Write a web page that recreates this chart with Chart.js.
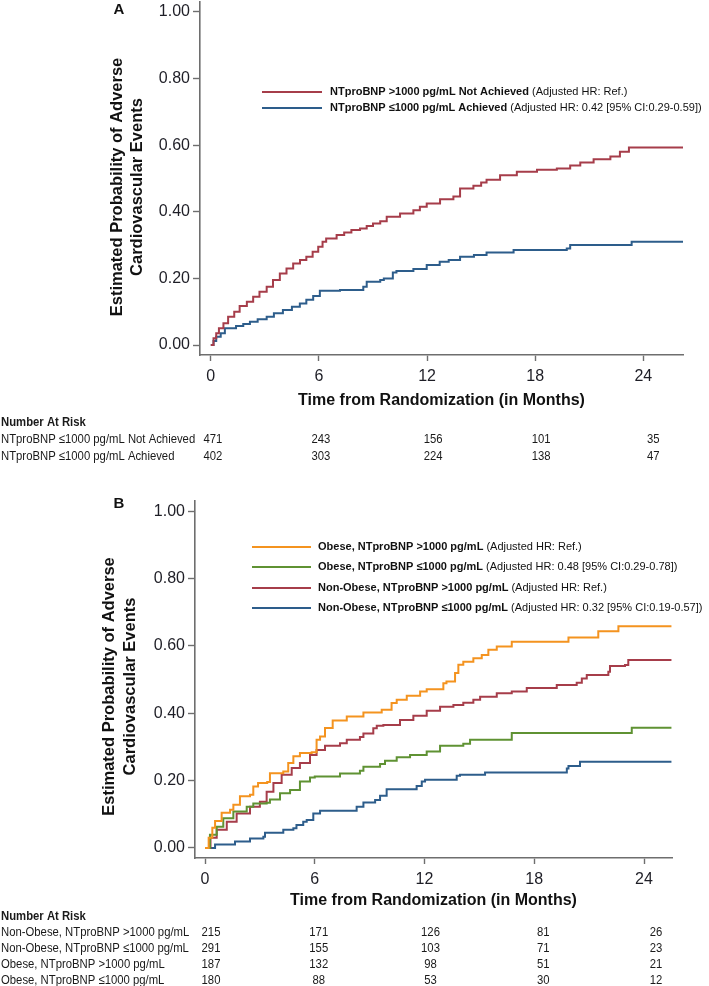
<!DOCTYPE html>
<html>
<head>
<meta charset="utf-8">
<script src="https://cdn.jsdelivr.net/npm/chart.js@4.4.0/dist/chart.umd.min.js"></script>
<style>
  html, body { margin: 0; padding: 0; background: #fff; }
  .panel { position: absolute; left: 0; width: 709px; }
  #boxA { top: 0; height: 470px; }
  #boxB { top: 470px; height: 516px; }
</style>
</head>
<body>
<div class="panel" id="boxA"><canvas id="chartA" width="709" height="470"></canvas></div>
<div class="panel" id="boxB"><canvas id="chartB" width="709" height="516"></canvas></div>
<script>
// ---------- shared axes ----------
const xTicks = [0, 6, 12, 18, 24];
const yTicks = [0, 0.2, 0.4, 0.6, 0.8, 1.0];
const yTitle = ['Estimated Probability of Adverse', 'Cardiovascular Events'];
const xTitle = 'Time from Randomization (in Months)';

// ---------- panel A: cumulative event curves ----------
const timeA_notAchieved = [0, 0.15, 0.3, 0.45, 0.7, 0.96, 1.3, 1.6, 2.0, 2.35, 2.7, 3.1, 3.45, 3.83, 4.2, 4.57, 4.95, 5.3, 5.65, 5.96, 6.2, 6.4, 6.98, 7.4, 7.8, 8.28, 8.65, 9.0, 9.4, 9.76, 10.5, 11.24, 11.6, 11.98, 12.72, 13.46, 13.83, 14.57, 15.0, 15.3, 16.05, 16.98, 18.1, 19.2, 19.94, 20.5, 21.24, 22.17, 22.7, 23.2, 26.2];
const probA_notAchieved = [0, 0.02, 0.035, 0.05, 0.065, 0.085, 0.1, 0.117, 0.13, 0.145, 0.16, 0.175, 0.195, 0.215, 0.23, 0.245, 0.255, 0.265, 0.28, 0.295, 0.31, 0.32, 0.33, 0.338, 0.345, 0.35, 0.357, 0.365, 0.372, 0.385, 0.395, 0.405, 0.415, 0.425, 0.438, 0.446, 0.47, 0.478, 0.488, 0.496, 0.51, 0.52, 0.526, 0.53, 0.539, 0.548, 0.558, 0.566, 0.58, 0.593, 0.593];

const timeA_achieved = [0, 0.15, 0.3, 0.55, 0.78, 1.4, 1.8, 2.17, 2.6, 3.1, 3.5, 4.0, 4.5, 4.94, 5.3, 5.68, 6.05, 7.17, 8.46, 8.65, 9.4, 9.6, 10.1, 10.3, 11.24, 11.98, 12.7, 13.2, 13.83, 14.6, 15.3, 16.8, 19.75, 19.94, 23.35, 26.2];
const probA_achieved = [0, 0.012, 0.025, 0.035, 0.05, 0.057, 0.063, 0.07, 0.077, 0.085, 0.095, 0.105, 0.115, 0.125, 0.136, 0.147, 0.163, 0.165, 0.175, 0.19, 0.195, 0.2, 0.218, 0.222, 0.228, 0.24, 0.25, 0.255, 0.265, 0.27, 0.278, 0.285, 0.29, 0.3, 0.31, 0.31];

const legendA_bold = ['NTproBNP >1000 pg/mL Not Achieved', 'NTproBNP \u22641000 pg/mL Achieved'];
const legendA_hr = ['(Adjusted HR: Ref.)', '(Adjusted HR: 0.42 [95% CI:0.29-0.59])'];

const riskA_labels = ['NTproBNP \u22641000 pg/mL Not Achieved', 'NTproBNP \u22641000 pg/mL Achieved'];
const riskA_notAchieved = [471, 243, 156, 101, 35];
const riskA_achieved = [402, 303, 224, 138, 47];

// ---------- panel B ----------
const timeB_obeseHigh = [0, 0.2, 0.4, 0.55, 0.91, 1.37, 1.55, 1.91, 2.46, 2.64, 2.9, 3.4, 3.55, 4.28, 4.55, 4.83, 5.19, 5.83, 6.1, 6.29, 6.56, 6.98, 7.75, 8.66, 9.66, 10.2, 10.48, 11.03, 11.76, 12.12, 13.03, 13.2, 13.67, 13.85, 14.12, 14.67, 15.13, 15.49, 15.95, 16.77, 19.87, 21.5, 22.6, 25.5];
const probB_obeseHigh = [0, 0.03, 0.06, 0.08, 0.104, 0.113, 0.128, 0.153, 0.158, 0.182, 0.193, 0.196, 0.222, 0.227, 0.252, 0.272, 0.282, 0.284, 0.321, 0.331, 0.356, 0.378, 0.39, 0.402, 0.41, 0.43, 0.44, 0.452, 0.464, 0.471, 0.489, 0.494, 0.519, 0.544, 0.553, 0.563, 0.573, 0.588, 0.598, 0.612, 0.625, 0.643, 0.658, 0.658];

const timeB_obeseLow = [0, 0.27, 0.64, 1.0, 1.55, 2.28, 2.64, 3.37, 3.55, 4.1, 4.65, 5.19, 5.74, 6.0, 7.38, 8.47, 8.66, 9.57, 9.84, 10.48, 11.21, 12.12, 12.85, 14.12, 14.49, 16.77, 23.33, 25.5];
const probB_obeseLow = [0, 0.039, 0.063, 0.088, 0.108, 0.122, 0.132, 0.134, 0.144, 0.162, 0.172, 0.197, 0.209, 0.212, 0.221, 0.229, 0.241, 0.249, 0.259, 0.269, 0.276, 0.286, 0.303, 0.309, 0.321, 0.341, 0.357, 0.357];

const timeB_nonObeseHigh = [0, 0.3, 0.64, 1.19, 1.73, 2.46, 3.0, 3.37, 3.74, 4.19, 4.74, 5.19, 5.74, 6.1, 6.56, 7.38, 7.75, 8.47, 8.66, 9.2, 9.39, 9.75, 10.66, 11.39, 12.12, 12.85, 13.58, 14.12, 14.67, 15.04, 15.95, 16.77, 17.59, 19.23, 20.32, 20.6, 20.87, 22.05, 22.14, 22.96, 23.14, 25.5];
const probB_nonObeseHigh = [0, 0.03, 0.054, 0.078, 0.102, 0.122, 0.137, 0.167, 0.193, 0.217, 0.237, 0.252, 0.276, 0.291, 0.303, 0.311, 0.321, 0.329, 0.34, 0.355, 0.363, 0.365, 0.38, 0.392, 0.407, 0.419, 0.424, 0.431, 0.44, 0.449, 0.459, 0.464, 0.475, 0.484, 0.49, 0.503, 0.513, 0.523, 0.54, 0.543, 0.558, 0.558];

const timeB_nonObeseLow = [0, 0.55, 1.64, 2.46, 3.19, 3.28, 4.28, 4.83, 5.0, 5.37, 5.56, 5.92, 6.29, 8.29, 8.66, 9.3, 9.57, 9.93, 11.57, 11.85, 12.03, 13.76, 13.94, 15.31, 19.78, 19.87, 20.5, 25.5];
const probB_nonObeseLow = [0, 0.01, 0.019, 0.028, 0.033, 0.045, 0.054, 0.058, 0.068, 0.078, 0.083, 0.102, 0.11, 0.122, 0.135, 0.142, 0.155, 0.174, 0.184, 0.197, 0.202, 0.214, 0.217, 0.224, 0.236, 0.243, 0.256, 0.256];

const legendB_bold = ['Obese, NTproBNP >1000 pg/mL', 'Obese, NTproBNP \u22641000 pg/mL', 'Non-Obese, NTproBNP >1000 pg/mL', 'Non-Obese, NTproBNP \u22641000 pg/mL'];
const legendB_hr = ['(Adjusted HR: Ref.)', '(Adjusted HR: 0.48 [95% CI:0.29-0.78])', '(Adjusted HR: Ref.)', '(Adjusted HR: 0.32 [95% CI:0.19-0.57])'];

const riskB_labels = ['Non-Obese, NTproBNP >1000 pg/mL', 'Non-Obese, NTproBNP \u22641000 pg/mL', 'Obese, NTproBNP >1000 pg/mL', 'Obese, NTproBNP \u22641000 pg/mL'];
const riskB_nonObeseHigh = [215, 171, 126, 81, 26];
const riskB_nonObeseLow = [291, 155, 103, 71, 23];
const riskB_obeseHigh = [187, 132, 98, 51, 21];
const riskB_obeseLow = [180, 88, 53, 30, 12];

// ---------- styling ----------
const RED = '#a63d4a';
const BLUE = '#2d5d8b';
const ORANGE = '#f4931f';
const GREEN = '#5f9233';
const AXIS = '#6e6e6e';
const FONT = "'Liberation Sans', Arial, sans-serif";

Chart.defaults.font.family = FONT;
Chart.defaults.color = '#1e1e26';

function pts(t, p) { return t.map((x, i) => ({ x: x, y: p[i] })); }

function curve(t, p, color) {
  return {
    data: pts(t, p), borderColor: color, borderWidth: 2,
    stepped: 'before', pointRadius: 0, fill: false, tension: 0
  };
}

function narrowText(ctx, str, x, y, align, sx) {
  ctx.save();
  ctx.translate(x, y);
  ctx.scale(sx, 1);
  ctx.textAlign = align;
  ctx.fillText(str, 0, 0);
  ctx.restore();
}

// titles, legend and risk table drawn on the canvas
function decor(L) {
  return {
    id: 'decor',
    afterDraw(chart) {
      const ctx = chart.ctx;
      const xs = chart.scales.x;
      ctx.save();
      ctx.fillStyle = '#111';
      ctx.textBaseline = 'middle';

      ctx.font = 'bold 15px ' + FONT;
      ctx.textAlign = 'center';
      ctx.fillText(L.letter, L.letterX, L.letterY);

      ctx.font = 'bold 16.5px ' + FONT;
      yTitle.forEach((line, i) => {
        ctx.save();
        ctx.translate(L.yTitleX[i], L.yTitleY);
        ctx.rotate(-Math.PI / 2);
        ctx.fillText(line, 0, 0);
        ctx.restore();
      });

      chart.data.datasets.forEach((ds, i) => {
        const y = L.legendY[i];
        ctx.strokeStyle = ds.borderColor;
        ctx.lineWidth = 2;
        ctx.beginPath();
        ctx.moveTo(L.legendLine[0], y);
        ctx.lineTo(L.legendLine[1], y);
        ctx.stroke();
        ctx.textAlign = 'left';
        ctx.font = 'bold ' + L.legendFont + 'px ' + FONT;
        ctx.fillText(L.legendBold[i], L.legendTextX, y);
        const w = ctx.measureText(L.legendBold[i] + ' ').width;
        ctx.font = L.legendFont + 'px ' + FONT;
        ctx.fillText(L.legendHr[i], L.legendTextX + w, y);
      });

      ctx.fillStyle = '#1a1a1a';
      ctx.font = 'bold 13px ' + FONT;
      narrowText(ctx, 'Number At Risk', 1, L.tableHeaderY, 'left', 0.87);
      ctx.font = '13px ' + FONT;
      L.riskLabels.forEach((lab, r) => {
        const y = L.tableHeaderY + L.tableRowGap * (r + 1);
        narrowText(ctx, lab, 1, y, 'left', 0.87);
        L.riskRows[r].forEach((n, j) => {
          const cx = xs.getPixelForValue(xTicks[j]) + L.colShift[j];
          narrowText(ctx, String(n), cx, y, 'center', 0.87);
        });
      });
      ctx.restore();
    }
  };
}

function makeChart(id, datasets, L) {
  return new Chart(document.getElementById(id), {
    type: 'line',
    data: { datasets: datasets },
    options: {
      responsive: false,
      animation: false,
      layout: { padding: L.padding },
      plugins: { legend: { display: false }, tooltip: { enabled: false } },
      scales: {
        x: {
          type: 'linear', min: L.xMin, max: L.xMax,
          afterBuildTicks: s => { s.ticks = xTicks.map(v => ({ value: v })); },
          afterFit: s => { s.height = L.xAxisHeight; s.paddingLeft = 0; s.paddingRight = 0; },
          border: { display: true, color: AXIS, width: 1.6 },
          grid: { drawOnChartArea: false, drawTicks: true, tickLength: 6, tickColor: AXIS, tickWidth: 1.4 },
          ticks: { padding: 6, font: { size: 16 }, color: '#1e1e26', maxRotation: 0 },
          title: { display: true, text: xTitle, font: { size: 16, weight: 'bold' }, color: '#111', padding: { top: 0, bottom: L.xTitlePad } }
        },
        y: {
          type: 'linear', min: -0.03, max: 1.03,
          afterBuildTicks: s => { s.ticks = yTicks.map(v => ({ value: v })); },
          afterFit: s => { s.width = L.yAxisWidth; s.paddingTop = 0; s.paddingBottom = 0; },
          border: { display: true, color: AXIS, width: 1.6 },
          grid: { drawOnChartArea: false, drawTicks: true, tickLength: 7, tickColor: AXIS, tickWidth: 1.4 },
          ticks: { padding: 3, font: { size: 16 }, color: '#1e1e26', callback: v => Number(v).toFixed(2) }
        }
      }
    },
    plugins: [decor(L)]
  });
}

makeChart('chartA', [
  curve(timeA_notAchieved, probA_notAchieved, RED),
  curve(timeA_achieved, probA_achieved, BLUE)
], {
  padding: { top: 2, right: 26, bottom: 55, left: 0 },
  xMin: -0.6, xMax: 26.2, xAxisHeight: 60, xTitlePad: 5, yAxisWidth: 200,
  letter: 'A', letterX: 119, letterY: 10,
  yTitleX: [117, 137], yTitleY: 187,
  legendY: [92, 108], legendLine: [262, 322], legendTextX: 330, legendFont: 11,
  legendBold: legendA_bold, legendHr: legendA_hr,
  tableHeaderY: 422, tableRowGap: 17,
  riskLabels: riskA_labels, riskRows: [riskA_notAchieved, riskA_achieved],
  colShift: [2, 2, 6, 6, 10]
});

makeChart('chartB', [
  curve(timeB_obeseHigh, probB_obeseHigh, ORANGE),
  curve(timeB_obeseLow, probB_obeseLow, GREEN),
  curve(timeB_nonObeseHigh, probB_nonObeseHigh, RED),
  curve(timeB_nonObeseLow, probB_nonObeseLow, BLUE)
], {
  padding: { top: 31, right: 37, bottom: 73, left: 0 },
  xMin: -0.547, xMax: 25.53, xAxisHeight: 55, xTitlePad: 2.4, yAxisWidth: 195,
  letter: 'B', letterX: 119, letterY: 34,
  yTitleX: [109, 130], yTitleY: 216.5,
  legendY: [77, 97, 118, 138], legendLine: [252, 311], legendTextX: 318, legendFont: 11,
  legendBold: legendB_bold, legendHr: legendB_hr,
  tableHeaderY: 446, tableRowGap: 16,
  riskLabels: riskB_labels, riskRows: [riskB_nonObeseHigh, riskB_nonObeseLow, riskB_obeseHigh, riskB_obeseLow],
  colShift: [6, 4, 6, 9, 12]
});
</script>
</body>
</html>
